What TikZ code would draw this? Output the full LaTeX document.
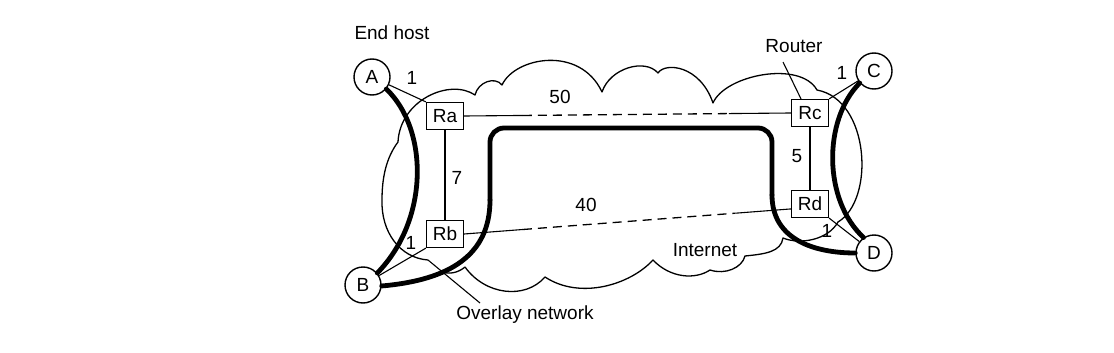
\documentclass[tikz,border=0pt]{standalone}
\usepackage{fontspec}
\setmainfont{Liberation Sans}
\usetikzlibrary{calc}
\begin{document}
\begin{tikzpicture}[x=1pt,y=-1pt,
  host/.style={circle, draw, line width=1.4pt, fill=white, minimum size=36pt, inner sep=0pt, font=\fontsize{19}{19}\selectfont},
  router/.style={rectangle, draw, line width=1.2pt, fill=white, minimum width=37pt, minimum height=27pt, inner sep=0pt, font=\fontsize{19}{19}\selectfont},
  lbl/.style={inner sep=0pt, font=\fontsize{19}{19}\selectfont},
  link/.style={line width=1.1pt},
  dashlink/.style={line width=1.3pt, dash pattern=on 9pt off 6pt},
  overlaypath/.style={line width=4.8pt, line cap=round},
  cloudline/.style={line width=1.3pt, line join=round}]
\useasboundingbox (0,0) rectangle (1114,353);
% Internet cloud
\draw[cloudline] (428,260) .. controls (400,258) and (381,232) .. (382,200)
 .. controls (382,178) and (386,158) .. (398,142)
 .. controls (400,100) and (450,78) .. (475,95)
 .. controls (478,82) and (495,76) .. (502,85)
 .. controls (515,57) and (580,45) .. (602,92)
 .. controls (610,68) and (645,58) .. (658,73)
 .. controls (665,62) and (700,65) .. (713,103)
 .. controls (725,75) and (800,60) .. (817,90)
 .. controls (870,100) and (875,200) .. (838,222)
 .. controls (828,240) and (800,245) .. (783,238)
 .. controls (781,252) and (765,254) .. (745,256)
 .. controls (742,268) and (725,275) .. (710,270)
 .. controls (695,280) and (670,278) .. (653,260)
 .. controls (630,285) and (580,300) .. (545,277)
 .. controls (525,300) and (485,295) .. (465,267)
 .. controls (458,273) and (448,275) .. (441,271);
% nodes
\node[host] (A) at (372,77) {A};
\node[host] (B) at (363,285) {B};
\node[host] (C) at (874,71) {C};
\node[host] (D) at (874,253) {D};
\node[router] (Ra) at (445,116) {Ra};
\node[router] (Rb) at (445,234) {Rb};
\node[router] (Rc) at (810,113) {Rc};
\node[router] (Rd) at (810,204) {Rd};
% labels
\node[lbl] (endhost) at (392,33) {End host};
\node[lbl] (router) at (794,46) {Router};
\node[lbl] (internet) at (705,250) {Internet};
\node[lbl] (overlay) at (525,315) {Overlay network};
\node[lbl] (wA) at (412,78) {1};
\node[lbl] (wB) at (411,243) {1};
\node[lbl] (wC) at (842,73) {1};
\node[lbl] (wD) at (827,231) {1};
\node[lbl] (w50) at (560,97) {50};
\node[lbl] (w7) at (457,178) {7};
\node[lbl] (w40) at (586,205) {40};
\node[lbl] (w5) at (797,156) {5};
% pointers
\coordinate (rtail) at (783,62);
\draw[link] (rtail) -- ($(Rc.north)+(-9,0)$);
\coordinate (ovtail) at (428,260);
\coordinate (ovhead) at (480,303);
\draw[link] (ovtail) -- (ovhead);
% thin links
\draw[link] (A) -- (Ra.north west);
\draw[link] (Ra) -- (Rb);
\draw[link] (Rc) -- (Rd);
\draw[link] (Rb.south west) -- (B);
\draw[link] (Rc.north east) -- (C);
\draw[link] (Rd.south east) -- (D);
\path (Ra.east) -- coordinate[pos=0.18] (ac1) coordinate[pos=0.81] (ac2) (Rc.west);
\draw[link] (Ra.east) -- (ac1);
\draw[dashlink] (ac1) -- (ac2);
\draw[link] (ac2) -- (Rc.west);
\coordinate (rdin) at ($(Rd.west)!0.35!(Rd.south west)$);
\path (Rb.east) -- coordinate[pos=0.18] (bd1) coordinate[pos=0.83] (bd2) (rdin);
\draw[link] (Rb.east) -- (bd1);
\draw[dashlink] (bd1) -- (bd2);
\draw[link] (bd2) -- (rdin);
% overlay (thick) links
\draw[overlaypath] (A.-40) .. controls (429,130) and (429,220) .. (B.40);
\draw[overlaypath] (C.220) .. controls (823,120) and (823,200) .. (D.124);
\coordinate (ov1) at (490,200);
\coordinate (ov2) at (772,195);
\draw[overlaypath] (B.-3) .. controls (450,280) and (490,255) .. (ov1);
\draw[overlaypath, rounded corners=14pt] (ov1) -- (490,128) -- (772,128) -- (ov2);
\draw[overlaypath] (ov2) .. controls (772,240) and (815,253) .. (D.180);
\end{tikzpicture}
\end{document}
